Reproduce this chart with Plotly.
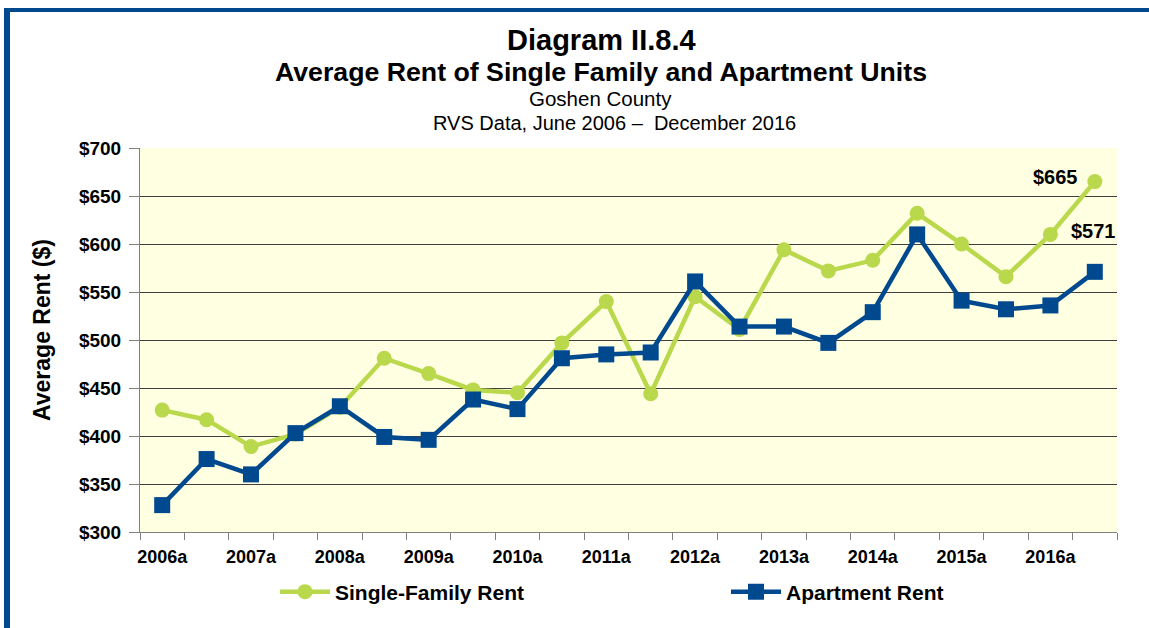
import plotly.graph_objects as go

periods = ["2006a", "2006b", "2007a", "2007b", "2008a", "2008b", "2009a", "2009b",
           "2010a", "2010b", "2011a", "2011b", "2012a", "2012b", "2013a", "2013b",
           "2014a", "2014b", "2015a", "2015b", "2016a", "2016b"]
single_family = [427, 417, 389, 402, 430, 481, 465, 448, 445, 497, 540, 444,
                 545, 511, 594, 572, 583, 632, 600, 566, 610, 665]
apartment = [328, 376, 360, 403, 431, 399, 396, 438, 428, 481, 485, 487,
             561, 514, 514, 497, 529, 610, 541, 532, 536, 571]
y_ticks = [300, 350, 400, 450, 500, 550, 600, 650, 700]

GREEN = "#BAD84C"
BLUE = "#00498F"
FONT = "Liberation Sans, Arial, sans-serif"

W, H = 1149, 628
L, R, T, B = 140, 32, 148, 96
pw, ph = W - L - R, H - T - B

def px(x):
    return (x - L) / pw

def py(y):
    return (H - B - y) / ph

xidx = list(range(len(periods)))

fig = go.Figure()
fig.add_trace(go.Scatter(
    x=xidx, y=single_family, name="<b>Single-Family Rent</b>", mode="lines+markers",
    line=dict(color=GREEN, width=4.5), marker=dict(symbol="circle", size=15, color=GREEN),
    legend="legend",
))
fig.add_trace(go.Scatter(
    x=xidx, y=apartment, name="<b>Apartment Rent</b>", mode="lines+markers",
    line=dict(color=BLUE, width=4.5), marker=dict(symbol="square", size=16, color=BLUE),
    legend="legend2",
))

# data labels for last values
fig.add_annotation(x=xidx[-1], y=single_family[-1], text="<b>$%d</b>" % single_family[-1],
                   showarrow=False, xshift=-39, yshift=5, font=dict(size=20, color="black", family=FONT))
fig.add_annotation(x=xidx[-1], y=apartment[-1], text="<b>$%d</b>" % apartment[-1],
                   showarrow=False, xshift=-1, yshift=41, font=dict(size=20, color="black", family=FONT))

# titles
titles = [
    ("<b>Diagram II.8.4</b>", 29, 40, 601),
    ("<b>Average Rent of Single Family and Apartment Units</b>", 26.7, 72, 601),
    ("Goshen County", 20.5, 98, 600),
    ("RVS Data, June 2006 \u2013\u00a0 December 2016", 20, 123, 614),
]
for txt, sz, yy, xx in titles:
    fig.add_annotation(xref="paper", yref="paper", x=px(xx), y=py(yy), text=txt,
                       showarrow=False, xanchor="center", yanchor="middle",
                       font=dict(size=sz, color="black", family=FONT))

# y axis title
fig.add_annotation(xref="paper", yref="paper", x=px(42), y=py(330), text="<b>Average Rent ($)</b>",
                   textangle=-90, showarrow=False, xanchor="center", yanchor="middle",
                   font=dict(size=23, color="black", family=FONT))

# blue frame
fig.add_shape(type="rect", xref="paper", yref="paper", x0=px(4), x1=px(10), y0=py(H + 20), y1=py(8),
              fillcolor=BLUE, line=dict(width=0), layer="above")
fig.add_shape(type="rect", xref="paper", yref="paper", x0=px(4), x1=px(W + 20), y0=py(12), y1=py(8),
              fillcolor=BLUE, line=dict(width=0), layer="above")

leg_common = dict(orientation="h", yanchor="middle", y=py(592), xanchor="left",
                  font=dict(size=21, family=FONT, color="black"), itemwidth=50,
                  bgcolor="rgba(0,0,0,0)", borderwidth=0)

fig.update_layout(
    width=W, height=H,
    margin=dict(l=L, r=R, t=T, b=B),
    paper_bgcolor="white",
    plot_bgcolor="#FFFFE1",
    font=dict(family=FONT, color="black"),
    showlegend=True,
    legend=dict(x=px(275), **leg_common),
    legend2=dict(x=px(726), **leg_common),
    xaxis=dict(
        range=[-0.5, len(periods) - 0.5],
        tickvals=xidx[::2], ticktext=["<b>%s</b>" % p for p in periods[::2]],
        tickfont=dict(size=18, family=FONT), ticks="", ticklabelstandoff=8,
        showgrid=False, zeroline=False,
        showline=True, linecolor="#808080", linewidth=1,
        minor=dict(tickvals=[i - 0.5 for i in range(len(periods) + 1)], ticks="outside",
                   ticklen=7, tickcolor="#808080", showgrid=False),
    ),
    yaxis=dict(
        range=[300, 700], tickvals=y_ticks, ticktext=["<b>$%d</b>" % v for v in y_ticks],
        tickfont=dict(size=19, family=FONT),
        ticks="outside", ticklen=10, tickcolor="#808080", ticklabelstandoff=4,
        showgrid=True, gridcolor="#404040", gridwidth=1, zeroline=False,
        showline=True, linecolor="#808080", linewidth=1,
    ),
)

fig.write_html("out.html", config={"displayModeBar": False},
               post_script="document.body.style.margin='0px';")
